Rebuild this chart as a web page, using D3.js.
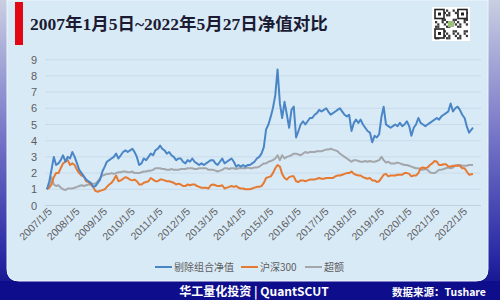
<!DOCTYPE html>
<html>
<head>
<meta charset="utf-8">
<script src="https://cdn.jsdelivr.net/npm/d3@7"></script>
<style>
  body { margin: 0; background: #0e0e8a; }
  svg { display: block; }
</style>
</head>
<body>
<svg id="chart"></svg>
<script>
// monthly values, Jan 2007 .. May 2022
var portfolio = [
  1.0, 1.5, 2.2, 3.0, 2.5, 2.6, 2.8, 3.1, 2.7, 3.0, 2.9, 3.3,   // 2007
  3.0, 2.6, 2.2, 2.0, 1.8, 1.6, 1.5, 1.4, 1.15, 1.2, 1.4, 1.6,  // 2008
  2.1, 2.4, 2.7, 2.8, 2.9, 3.0, 3.2, 2.9, 3.1, 3.3, 3.4, 3.3,   // 2009
  3.4, 3.5, 3.3, 3.0, 2.5, 2.6, 2.9, 2.8, 3.0, 3.2, 3.1, 3.4,   // 2010
  3.5, 3.7, 3.5, 3.4, 3.2, 3.3, 3.1, 3.0, 2.8, 2.9, 2.9, 2.7,   // 2011
  2.6, 2.8, 2.7, 2.9, 2.7, 2.6, 2.5, 2.6, 2.5, 2.6, 2.7, 2.8,   // 2012
  2.8, 2.6, 2.5, 2.7, 2.9, 2.6, 2.7, 2.8, 2.9, 2.7, 2.4, 2.5,   // 2013
  2.4, 2.5, 2.4, 2.5, 2.5, 2.6, 2.7, 2.9, 3.0, 3.2, 3.6, 4.7,   // 2014
  5.0, 5.5, 6.0, 6.8, 8.4, 6.3, 5.4, 6.4, 5.6, 4.8, 5.9, 6.1,   // 2015
  4.2, 4.6, 5.0, 5.2, 5.0, 5.2, 5.4, 5.4, 5.6, 5.7, 5.9, 5.8,   // 2016
  5.9, 6.0, 5.8, 5.6, 5.7, 5.8, 5.9, 6.0, 5.8, 5.6, 5.5, 5.6,   // 2017
  4.6, 5.1, 5.3, 5.1, 5.3, 5.0, 4.8, 4.6, 4.5, 3.9, 4.3, 4.2,   // 2018
  4.4, 5.5, 6.1, 5.0, 4.9, 4.8, 4.9, 5.0, 4.9, 5.1, 4.9, 5.0,   // 2019
  5.2, 4.9, 4.3, 4.8, 5.0, 5.4, 5.1, 5.0, 4.9, 5.0, 5.1, 5.2,   // 2020
  5.3, 5.4, 5.3, 5.5, 5.6, 5.7, 5.8, 6.3, 5.8, 6.0, 6.1, 5.9,   // 2021
  5.6, 5.4, 4.9, 4.5, 4.8                                        // 2022
];
var hs300 = [
  1.0, 1.1, 1.3, 1.75, 2.0, 2.0, 2.3, 2.6, 2.7, 2.8, 2.5, 2.6,
  2.5, 2.2, 2.0, 1.85, 1.8, 1.5, 1.45, 1.3, 1.15, 0.9, 0.85, 0.9,
  0.95, 1.0, 1.15, 1.3, 1.4, 1.6, 1.85, 1.5, 1.55, 1.65, 1.75, 1.7,
  1.6, 1.55, 1.6, 1.5, 1.3, 1.3, 1.4, 1.45, 1.5, 1.7, 1.6, 1.5,
  1.5, 1.6, 1.6, 1.55, 1.5, 1.5, 1.45, 1.4, 1.3, 1.35, 1.3, 1.2,
  1.2, 1.3, 1.25, 1.3, 1.3, 1.2, 1.15, 1.1, 1.1, 1.1, 1.05, 1.25,
  1.3, 1.25, 1.2, 1.2, 1.25, 1.05, 1.1, 1.15, 1.2, 1.15, 1.2, 1.1,
  1.05, 1.05, 1.0, 1.0, 1.0, 1.05, 1.1, 1.15, 1.15, 1.2, 1.4, 1.7,
  1.75, 1.8, 2.0, 2.3, 2.5, 2.4, 1.95, 1.7, 1.6, 1.75, 1.8, 1.8,
  1.5, 1.45, 1.55, 1.55, 1.5, 1.55, 1.6, 1.6, 1.6, 1.65, 1.7, 1.65,
  1.65, 1.7, 1.7, 1.7, 1.7, 1.8, 1.85, 1.85, 1.9, 1.95, 2.0, 2.0,
  2.1, 1.95, 1.9, 1.85, 1.85, 1.75, 1.7, 1.65, 1.7, 1.55, 1.55, 1.45,
  1.5, 1.7, 1.9, 1.95, 1.8, 1.85, 1.85, 1.85, 1.9, 1.9, 1.9, 2.0,
  2.0, 1.95, 1.8, 1.85, 1.85, 2.0, 2.3, 2.35, 2.3, 2.35, 2.5, 2.6,
  2.75, 2.7, 2.5, 2.5, 2.55, 2.55, 2.4, 2.4, 2.45, 2.45, 2.45, 2.45,
  2.3, 2.3, 2.1, 1.9, 1.95
];
var excess = [
  1.0, 1.3, 1.75, 1.3, 1.2, 1.25, 1.1, 1.0, 0.95, 1.05, 1.05, 1.05,
  1.1, 1.15, 1.2, 1.25, 1.2, 1.25, 1.3, 1.3, 1.35, 1.35, 1.5, 1.7,
  1.85, 1.9, 1.95, 1.95, 2.0, 1.95, 2.0, 2.05, 2.05, 2.1, 2.1, 2.05,
  2.05, 2.1, 2.0, 2.0, 2.0, 2.05, 2.1, 2.1, 2.15, 2.15, 2.2, 2.3,
  2.3, 2.3, 2.25, 2.25, 2.2, 2.2, 2.25, 2.2, 2.2, 2.2, 2.25, 2.25,
  2.25, 2.3, 2.3, 2.3, 2.25, 2.25, 2.3, 2.3, 2.3, 2.3, 2.2, 2.2,
  2.2, 2.15, 2.1, 2.15, 2.2, 2.3, 2.3, 2.25, 2.3, 2.3, 2.25, 2.3,
  2.3, 2.3, 2.3, 2.35, 2.3, 2.3, 2.35, 2.35, 2.4, 2.5, 2.6, 2.6,
  2.7, 2.75, 2.8, 2.9, 3.1, 2.8, 3.1, 2.9, 3.0, 3.05, 3.1, 3.2,
  3.2, 3.15, 3.1, 3.2, 3.3, 3.25, 3.3, 3.3, 3.3, 3.35, 3.35, 3.35,
  3.4, 3.45, 3.45, 3.5, 3.45, 3.4, 3.35, 3.2, 3.1, 3.0, 2.9, 2.8,
  2.7, 2.8, 2.8, 2.75, 2.7, 2.7, 2.75, 2.7, 2.75, 2.7, 2.7, 2.75,
  2.8, 3.0, 2.8, 2.65, 2.7, 2.6, 2.6, 2.6, 2.65, 2.6, 2.55, 2.5,
  2.5, 2.45, 2.4, 2.35, 2.3, 2.3, 2.2, 2.2, 2.25, 2.2, 2.05, 2.0,
  2.0, 2.1, 2.2, 2.2, 2.25, 2.3, 2.35, 2.3, 2.35, 2.45, 2.5, 2.5,
  2.45, 2.45, 2.45, 2.5, 2.5
];
var yTicks = [0, 1, 2, 3, 4, 5, 6, 7, 8, 9];
var tickYears = d3.range(2007, 2023);
var seriesNames = ["剔除组合净值", "沪深300", "超额"];
var seriesColors = ["#4a86c6", "#e57a33", "#a3a6aa"];

var width = 500, height = 300;
var svg = d3.select("#chart").attr("width", width).attr("height", height);
var defs = svg.append("defs");

// frame gradient
var g1 = defs.append("linearGradient").attr("id", "frame")
  .attr("x1", 0).attr("y1", 0).attr("x2", 0).attr("y2", 1);
g1.append("stop").attr("offset", "0%").attr("stop-color", "#c9cfe2");
g1.append("stop").attr("offset", "45%").attr("stop-color", "#7676c8");
g1.append("stop").attr("offset", "85%").attr("stop-color", "#2a2aa6");
g1.append("stop").attr("offset", "100%").attr("stop-color", "#0c0c86");

svg.append("rect").attr("width", width).attr("height", height).attr("fill", "url(#frame)");
svg.append("rect").attr("x", 0).attr("y", 281).attr("width", width).attr("height", 19)
  .attr("fill", "#0e0e8c");

// light panel with rounded bottom corners
var px0 = 7, px1 = 488, py1 = 281, r = 12;
svg.append("path")
  .attr("d", "M" + px0 + ",0 H" + px1 + " V" + (py1 - r) +
    " Q" + px1 + "," + py1 + " " + (px1 - r) + "," + py1 +
    " H" + (px0 + r) + " Q" + px0 + "," + py1 + " " + px0 + "," + (py1 - r) + " Z")
  .attr("fill", "#d9eaf7")
  .attr("stroke", "#eef5fb").attr("stroke-width", 1);

// title
svg.append("rect").attr("x", 15).attr("y", 2).attr("width", 8).attr("height", 43).attr("fill", "#e30613");
svg.append("text")
  .attr("x", 30).attr("y", 30)
  .style("font-family", "'Liberation Serif', 'Noto Sans CJK SC'")
  .style("font-weight", "bold")
  .style("font-size", "17.5px")
  .attr("fill", "#1b1b33")
  .text("2007年1月5日~2022年5月27日净值对比");

// qr code-ish badge
var qr = svg.append("g").attr("transform", "translate(432,7)");
qr.append("rect").attr("width", 38).attr("height", 34).attr("fill", "#ffffff");
var cells = [];
for (var i = 0; i < 15; i++) for (var j = 0; j < 13; j++) {
  if (((i * 7 + j * 13 + i * j) % 5) < 2) cells.push([i, j]);
}
qr.selectAll("rect.c").data(cells).enter().append("rect")
  .attr("class", "c")
  .attr("x", function (d) { return 3 + d[0] * 2.2; })
  .attr("y", function (d) { return 2.5 + d[1] * 2.3; })
  .attr("width", 2.2).attr("height", 2.3).attr("fill", "#3a3a3a");
[[3, 2.5], [26, 2.5], [3, 22]].forEach(function (p) {
  qr.append("rect").attr("x", p[0]).attr("y", p[1]).attr("width", 9).attr("height", 9)
    .attr("fill", "#fff").attr("stroke", "#222").attr("stroke-width", 1.6);
  qr.append("rect").attr("x", p[0] + 3).attr("y", p[1] + 3).attr("width", 3).attr("height", 3).attr("fill", "#222");
});
qr.append("rect").attr("x", 16).attr("y", 14).attr("width", 6).attr("height", 6).attr("fill", "#9bc07a");

// scales
var parse = d3.timeParse("%Y-%m-%d");
var dates = d3.timeMonth.range(new Date(2007, 0, 1), new Date(2022, 5, 1))
  .map(function (d) { return new Date(d.getFullYear(), d.getMonth(), 5); });
dates[dates.length - 1] = parse("2022-05-27");

var x = d3.scaleTime()
  .domain([parse("2007-01-05"), parse("2022-05-27")])
  .range([47, 473]);
var y = d3.scaleLinear().domain([0, 9]).range([205.5, 59.7]);

// gridlines
svg.append("g").selectAll("line").data(yTicks).enter().append("line")
  .attr("x1", 45).attr("x2", 481)
  .attr("y1", function (d) { return y(d); })
  .attr("y2", function (d) { return y(d); })
  .attr("stroke", function (d) { return d === 0 ? "#c0d2e2" : "#c9dbea"; })
  .attr("stroke-width", 1);

// y axis
var yAxis = svg.append("g").attr("transform", "translate(37,0)")
  .call(d3.axisLeft(y).tickValues(yTicks).tickSize(0).tickPadding(0).tickFormat(d3.format("d")));
yAxis.select(".domain").remove();
yAxis.selectAll("text")
  .style("font-family", "'Liberation Sans', Arial, sans-serif")
  .style("font-size", "11px")
  .attr("fill", "#5d5d5d");

// x axis
var xAxis = svg.append("g").attr("transform", "translate(0,210)")
  .call(d3.axisBottom(x)
    .tickValues(tickYears.map(function (yr) { return new Date(yr, 0, 5); }))
    .tickSize(0)
    .tickFormat(d3.timeFormat("%Y/%-m/%-d")));
xAxis.select(".domain").remove();
xAxis.selectAll("text")
  .style("font-family", "'Liberation Sans', Arial, sans-serif")
  .style("font-size", "10.5px")
  .attr("fill", "#5d5d5d")
  .style("text-anchor", "end")
  .attr("dx", "0.2em")
  .attr("dy", "0.2em")
  .attr("transform", "rotate(-45)");

// lines
var allSeries = [portfolio, hs300, excess];
var line = d3.line()
  .x(function (d, i) { return x(dates[i]); })
  .y(function (d) { return y(d); })
  .curve(d3.curveLinear);

[2, 1, 0].forEach(function (k) {
  svg.append("path")
    .datum(allSeries[k])
    .attr("d", line)
    .attr("fill", "none")
    .attr("stroke", seriesColors[k])
    .attr("stroke-width", 2)
    .attr("stroke-linejoin", "round");
});

// legend
var legendX = [155, 241, 305];
var lg = svg.append("g").attr("transform", "translate(0,267)");
seriesNames.forEach(function (name, k) {
  lg.append("line")
    .attr("x1", legendX[k]).attr("x2", legendX[k] + 17)
    .attr("stroke", seriesColors[k]).attr("stroke-width", 2);
  lg.append("text")
    .attr("x", legendX[k] + 19).attr("y", 3.5)
    .style("font-family", "'Noto Sans CJK SC', sans-serif")
    .style("font-size", "10px")
    .attr("fill", "#5d5d5d")
    .text(name);
});

// footer
svg.append("text")
  .attr("x", 254).attr("y", 296)
  .attr("text-anchor", "middle")
  .style("font-family", "'Noto Sans CJK SC', sans-serif")
  .style("font-weight", "bold")
  .style("font-size", "12px")
  .attr("fill", "#ffffff")
  .text("华工量化投资 | QuantSCUT");
svg.append("text")
  .attr("x", 392).attr("y", 296)
  .style("font-family", "'Noto Sans CJK SC', sans-serif")
  .style("font-weight", "bold")
  .style("font-size", "10.5px")
  .attr("fill", "#ffffff")
  .text("数据来源：Tushare");
</script>
</body>
</html>
